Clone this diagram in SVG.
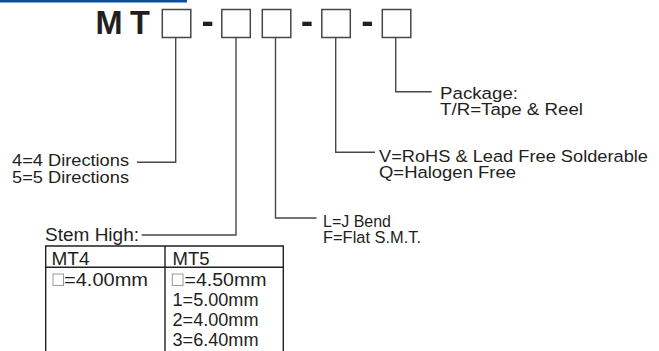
<svg xmlns="http://www.w3.org/2000/svg" width="659" height="351" viewBox="0 0 659 351">
<style>
.lbl{font-family:"Liberation Sans",Arial,sans-serif;font-size:16.3px;fill:#231f20}
.tb{font-size:17.5px}
.big{font-family:"Liberation Sans",Arial,sans-serif;font-size:32.5px;font-weight:bold;fill:#231f20}
.box{fill:#fff;stroke:#4a4646;stroke-width:1.5}
.dash{fill:#231f20}
.con{fill:none;stroke:#4a4646;stroke-width:1.4}
.tbl{fill:none;stroke:#231f20;stroke-width:1.4}
.sq{fill:#fff;stroke:#9a9a9a;stroke-width:1}
</style>
<rect x="0" y="0" width="187" height="2.5" fill="#0b4d9c"/>
<g id="title">
<text class="big" x="95.5" y="33.5">M</text>
<text class="big" x="130" y="33.5">T</text>
</g>
<g id="box1"><rect class="box" x="162.3" y="9.5" width="28.5" height="28"/></g>
<g id="dash1"><rect class="dash" x="203" y="21.7" width="9.3" height="4.3"/></g>
<g id="box2"><rect class="box" x="221.8" y="9.5" width="28.5" height="28"/></g>
<g id="box3"><rect class="box" x="262.3" y="9.5" width="28.5" height="28"/></g>
<g id="dash2"><rect class="dash" x="302.3" y="21.7" width="9.3" height="4.3"/></g>
<g id="box4"><rect class="box" x="321.8" y="9.5" width="28.5" height="28"/></g>
<g id="dash3"><rect class="dash" x="362.7" y="21.7" width="9.3" height="4.3"/></g>
<g id="box5"><rect class="box" x="382.3" y="9.5" width="28.5" height="28"/></g>
<g id="connectors">
<path class="con" d="M175.7,37.5 V162.2 H137"/>
<path class="con" d="M236,37.5 V235 H141.7"/>
<path class="con" d="M275.5,37.5 V218 H316.5"/>
<path class="con" d="M335.7,37.5 V152.3 H375"/>
<path class="con" d="M395.7,37.5 V91.7 H431.7"/>
</g>
<g id="package">
<text class="lbl" x="440" y="98.5" textLength="78" lengthAdjust="spacingAndGlyphs">Package:</text>
<text class="lbl" x="440" y="114.8" textLength="143" lengthAdjust="spacingAndGlyphs">T/R=Tape &amp; Reel</text>
</g>
<g id="rohs">
<text class="lbl" x="379" y="161.7" textLength="269" lengthAdjust="spacingAndGlyphs">V=RoHS &amp; Lead Free Solderable</text>
<text class="lbl" x="379" y="178" textLength="137" lengthAdjust="spacingAndGlyphs">Q=Halogen Free</text>
</g>
<g id="directions">
<text class="lbl" x="12" y="166.2" textLength="117" lengthAdjust="spacingAndGlyphs">4=4 Directions</text>
<text class="lbl" x="12" y="182.7" textLength="117" lengthAdjust="spacingAndGlyphs">5=5 Directions</text>
</g>
<g id="bend">
<text class="lbl" x="323" y="226.7" textLength="68" lengthAdjust="spacingAndGlyphs">L=J Bend</text>
<text class="lbl" x="323" y="243" textLength="98" lengthAdjust="spacingAndGlyphs">F=Flat S.M.T.</text>
</g>
<g id="stem">
<text class="lbl" x="45" y="240.5" textLength="94" lengthAdjust="spacingAndGlyphs" style="font-size:17.5px">Stem High:</text>
<path class="tbl" d="M45.7,352 V246 H283.3 V352 M45.7,267.3 H283.3 M165,246 V352"/>
<text class="lbl tb" x="51.5" y="265" textLength="38" lengthAdjust="spacingAndGlyphs">MT4</text>
<text class="lbl tb" x="172.5" y="265" textLength="37" lengthAdjust="spacingAndGlyphs">MT5</text>
<rect class="sq" x="53" y="274" width="10.5" height="11.5"/>
<text class="lbl tb" x="64" y="285.5" textLength="84" lengthAdjust="spacingAndGlyphs">=4.00mm</text>
<rect class="sq" x="172.3" y="274" width="10.7" height="11.5"/>
<text class="lbl tb" x="184.5" y="285.5" textLength="82" lengthAdjust="spacingAndGlyphs">=4.50mm</text>
<text class="lbl tb" x="172.5" y="306" textLength="86" lengthAdjust="spacingAndGlyphs">1=5.00mm</text>
<text class="lbl tb" x="172.5" y="326" textLength="86" lengthAdjust="spacingAndGlyphs">2=4.00mm</text>
<text class="lbl tb" x="172.5" y="346" textLength="86" lengthAdjust="spacingAndGlyphs">3=6.40mm</text>
</g>
</svg>
